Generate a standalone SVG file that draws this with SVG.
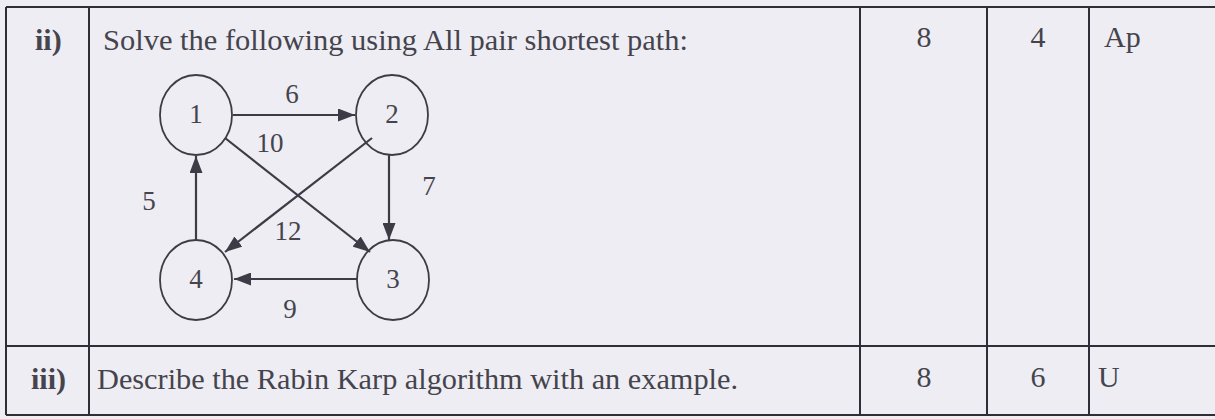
<svg xmlns="http://www.w3.org/2000/svg" width="1215" height="419" viewBox="0 0 1215 419">
<style>
.t{font-family:"Liberation Serif","Times New Roman",serif;fill:#45444d}
.big{font-size:30px}
.b{font-weight:bold}
.n{font-size:27px;text-anchor:middle}
.c{text-anchor:middle}
.grid{stroke:#2e2d38;stroke-width:2;fill:none}
.edge{stroke:#3d3c46;stroke-width:2.2;fill:none;marker-end:url(#ah)}
.node{stroke:#3d3c46;stroke-width:1.8;fill:none}
</style>
<defs>
<marker id="ah" markerUnits="userSpaceOnUse" markerWidth="17" markerHeight="13" refX="17" refY="6.5" orient="auto">
<path d="M0,0 L17,6.5 L0,13 z" fill="#3d3c46"/>
</marker>
</defs>
<rect width="1215" height="419" fill="#eeedf3"/>
<g id="table">
<line class="grid" x1="6" y1="7" x2="1215" y2="7"/>
<line class="grid" x1="6" y1="346" x2="1215" y2="346"/>
<line class="grid" x1="6" y1="415" x2="1215" y2="415"/>
<line class="grid" x1="6" y1="7" x2="6" y2="415"/>
<line class="grid" x1="89" y1="7" x2="89" y2="415"/>
<line class="grid" x1="860" y1="7" x2="860" y2="415"/>
<line class="grid" x1="987" y1="7" x2="987" y2="415"/>
<line class="grid" x1="1089" y1="7" x2="1089" y2="415"/>
</g>
<g id="texts">
<text class="t big b" x="35" y="50">ii)</text>
<text class="t big" x="103" y="50" textLength="585" lengthAdjust="spacingAndGlyphs">Solve the following using All pair shortest path:</text>
<text class="t big c" x="924" y="47">8</text>
<text class="t big c" x="1038" y="47">4</text>
<text class="t big" x="1104" y="47">Ap</text>
<text class="t big b" x="31" y="389">iii)</text>
<text class="t big" x="97" y="389" textLength="641" lengthAdjust="spacingAndGlyphs">Describe the Rabin Karp algorithm with an example.</text>
<text class="t big c" x="924" y="387">8</text>
<text class="t big c" x="1038" y="387">6</text>
<text class="t big" x="1098" y="387">U</text>
</g>
<g id="connectors">
<line class="edge" x1="233" y1="115" x2="355" y2="115"/>
<line class="edge" x1="389" y1="155" x2="389" y2="240"/>
<line class="edge" x1="357" y1="279" x2="234" y2="279"/>
<line class="edge" x1="196" y1="240" x2="196" y2="156"/>
<line class="edge" x1="225" y1="138" x2="370" y2="252"/>
<line class="edge" x1="372" y1="138" x2="225" y2="252"/>
<text class="t n" x="292" y="103">6</text>
<text class="t n" x="270" y="152">10</text>
<text class="t n" x="429" y="195">7</text>
<text class="t n" x="149" y="210">5</text>
<text class="t n" x="288" y="240">12</text>
<text class="t n" x="290" y="318">9</text>
</g>
<g id="node1">
<ellipse class="node" cx="196" cy="115" rx="36" ry="40"/>
<text class="t n" x="196" y="123">1</text>
</g>
<g id="node2">
<ellipse class="node" cx="392" cy="115" rx="36" ry="40"/>
<text class="t n" x="392" y="123">2</text>
</g>
<g id="node3">
<ellipse class="node" cx="393" cy="280" rx="36" ry="40"/>
<text class="t n" x="393" y="288">3</text>
</g>
<g id="node4">
<ellipse class="node" cx="196" cy="280" rx="36" ry="40"/>
<text class="t n" x="196" y="288">4</text>
</g>
</svg>
